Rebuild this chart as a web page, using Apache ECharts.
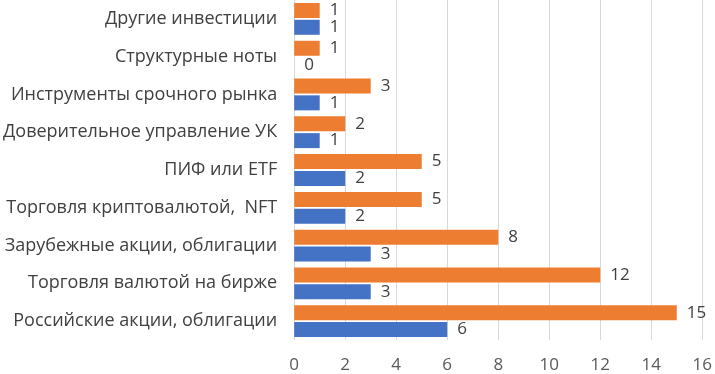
<!DOCTYPE html>
<html>
<head>
<meta charset="utf-8">
<script src="https://cdn.jsdelivr.net/npm/echarts@6/dist/echarts.min.js"></script>
<style>
  html, body { margin: 0; padding: 0; background: #fff; }
  #chart { width: 715px; height: 374px; }
</style>
</head>
<body>
<div id="chart"></div>
<script>
// categories listed bottom to top
var categories = [
    'Российские акции, облигации',
    'Торговля валютой на бирже',
    'Зарубежные акции, облигации',
    'Торговля криптовалютой,  NFT',
    'ПИФ или ETF',
    'Доверительное управление УК',
    'Инструменты срочного рынка',
    'Структурные ноты',
    'Другие инвестиции'
];
var orangeValues = [15, 12, 8, 5, 5, 2, 3, 1, 1];
var blueValues = [6, 3, 3, 2, 2, 1, 1, 0, 1];
var xTicks = [0, 2, 4, 6, 8, 10, 12, 14, 16];

var fontName = '"Open Sans", sans-serif';
var labelStyle = {
    show: true,
    position: 'right',
    distance: 10,
    color: '#404040',
    fontSize: 17,
    fontFamily: fontName
};

var option = {
    animation: false,
    grid: { left: 294, right: 11, top: 0, bottom: 34, containLabel: false },
    xAxis: {
        type: 'value',
        min: xTicks[0],
        max: xTicks[xTicks.length - 1],
        interval: 2,
        axisLine: { show: false },
        axisTick: { show: false },
        splitLine: { lineStyle: { color: '#d9d9d9', width: 1 } },
        axisLabel: { color: '#595959', fontSize: 17, fontFamily: fontName, margin: 17 }
    },
    yAxis: {
        type: 'category',
        data: categories,
        axisLine: { show: false },
        axisTick: { show: false },
        axisLabel: { color: '#404040', fontSize: 18, fontFamily: fontName, margin: 17 }
    },
    series: [
        {
            name: 'orange',
            type: 'bar',
            data: orangeValues,
            barWidth: 15,
            barGap: '12%',
            itemStyle: { color: '#ED7D31' },
            label: labelStyle
        },
        {
            name: 'blue',
            type: 'bar',
            data: blueValues,
            barWidth: 15,
            barGap: '12%',
            itemStyle: { color: '#4472C4' },
            label: labelStyle
        }
    ]
};

var myChart = echarts.init(document.getElementById('chart'));
myChart.setOption(option);
</script>
</body>
</html>
